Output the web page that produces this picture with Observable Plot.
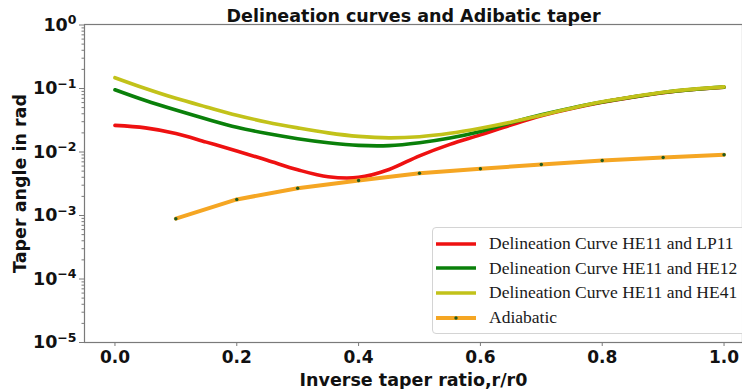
<!DOCTYPE html>
<html>
<head>
<meta charset="utf-8">
<script src="https://cdn.jsdelivr.net/npm/d3@7"></script>
<script src="https://cdn.jsdelivr.net/npm/@observablehq/plot@0.6"></script>
<style>
  body { margin: 0; background: #fff; }
  #wrap { position: relative; width: 742px; height: 389px; overflow: hidden; background: #fff; }
  #legend { position: absolute; left: 432px; top: 227px; width: 330px; height: 105px;
            border: 1px solid #d4d4d4; border-radius: 4px; background: rgba(255,255,255,0.9);
            font-family: "Liberation Serif", "Times New Roman", serif; font-size: 17.5px; color: #1a1a1a; }
  .row { position: absolute; left: 3px; height: 22px; display: flex; align-items: center; white-space: nowrap; }
  .row svg { display: block; }
  .row span { margin-left: 13px; }
</style>
</head>
<body>
<div id="wrap"></div>
<script>
// ---- data ----
const xs   = [0, 0.05, 0.1, 0.15, 0.2, 0.25, 0.3, 0.35, 0.4, 0.45, 0.5, 0.55, 0.6, 0.65, 0.7, 0.75, 0.8, 0.85, 0.9, 0.95, 1.0];
const lp11 = [0.0263, 0.0240, 0.0196, 0.0143, 0.0104, 0.00741, 0.00525, 0.00407, 0.00398, 0.00531, 0.00871, 0.0132, 0.0186, 0.0266, 0.0372, 0.0484, 0.0607, 0.0731, 0.0859, 0.0964, 0.1047];
const he12 = [0.0955, 0.0646, 0.0457, 0.0331, 0.0245, 0.0195, 0.0162, 0.0140, 0.0127, 0.0126, 0.0140, 0.0166, 0.0211, 0.0288, 0.0385, 0.0495, 0.0612, 0.0736, 0.0865, 0.0970, 0.105];
const he41 = [0.148, 0.100, 0.0700, 0.0513, 0.0380, 0.0295, 0.0240, 0.0200, 0.0176, 0.0167, 0.0174, 0.0197, 0.0237, 0.0295, 0.0380, 0.0490, 0.0617, 0.0741, 0.0871, 0.0977, 0.106];
const adiabaticX = [0.1, 0.2, 0.3, 0.4, 0.5, 0.6, 0.7, 0.8, 0.9, 1.0];
const adiabatic  = [0.00089, 0.00179, 0.00269, 0.00356, 0.00464, 0.00544, 0.00636, 0.00735, 0.00819, 0.00904];

const seriesNames = ["Delineation Curve HE11 and LP11", "Delineation Curve HE11 and HE12", "Delineation Curve HE11 and HE41", "Adiabatic"];
const seriesColors = ["#ee1111", "#0a800a", "#c2c21a", "#f5a623"];
const markerColor = "#1f5a1f";

const xTicks = [0, 0.2, 0.4, 0.6, 0.8, 1.0];
const yMajor = [1e-5, 1e-4, 1e-3, 1e-2, 1e-1, 1];
const yMinor = [];
for (let e = -5; e < 0; e++) for (let k = 2; k <= 9; k++) yMinor.push(k * Math.pow(10, e));

const titleText = "Delineation curves and Adibatic taper";
const xLabel = "Inverse taper ratio,r/r0";
const yLabel = "Taper angle in rad";

// ---- build tables ----
const curves = [lp11, he12, he41].map((vals, i) =>
  xs.map((x, j) => ({x, y: vals[j], s: seriesNames[i]})));
const adi = adiabaticX.map((x, j) => ({x, y: adiabatic[j]}));

const bold = {fontWeight: "bold", fill: "#111"};

const chart = Plot.plot({
  width: 742,
  height: 389,
  marginLeft: 84,
  marginTop: 24,
  marginBottom: 47,
  marginRight: 0,
  style: {fontFamily: "DejaVu Sans", fontSize: "17px", background: "white", overflow: "visible"},
  x: {domain: [-0.05, 1.05], range: [84, 754]},
  y: {type: "log", domain: [1e-5, 1], range: [342, 24.5]},
  marks: [
    Plot.frame({stroke: "#7a7a7a", strokeWidth: 1.2}),
    ...curves.map((d, i) => Plot.line(d, {x: "x", y: "y", stroke: seriesColors[i], strokeWidth: 3.6, curve: "catmull-rom"})),
    Plot.line(adi, {x: "x", y: "y", stroke: seriesColors[3], strokeWidth: 4}),
    Plot.dot(adi, {x: "x", y: "y", r: 1.7, fill: markerColor, stroke: "none"}),
    Plot.axisX({ticks: xTicks, tickFormat: d3.format(".1f"), tickSize: 4, tickPadding: 4, stroke: "#7a7a7a", fontSize: 17, label: null, ...bold}),
    Plot.axisY({ticks: yMajor, tickSize: 5, tickPadding: 3, stroke: "#7a7a7a", fontSize: 17.5, label: null,
                tickFormat: d => "E" + Math.round(Math.log10(d)), ...bold}),
    Plot.axisY({ticks: yMinor, tickSize: 2.5, stroke: "#7a7a7a", tickFormat: () => "", label: null}),
    Plot.text([titleText], {frameAnchor: "top", lineAnchor: "bottom", dy: -3, fontSize: 17.5, ...bold}),
    Plot.text([xLabel], {frameAnchor: "bottom", lineAnchor: "bottom", dy: 43, fontSize: 17.5, ...bold}),
    Plot.text([yLabel], {frameAnchor: "left", textAnchor: "middle", lineAnchor: "middle", rotate: -90, dx: -64, fontSize: 17.5, ...bold})
  ]
});

// superscript exponents on the log axis labels
d3.select(chart).selectAll('g[aria-label="y-axis tick label"] text').each(function () {
  const t = d3.select(this);
  const txt = t.text();
  if (!txt.startsWith("E")) return;
  const e = txt.slice(1).replace("-", "\u2212");
  t.text(null);
  t.append("tspan").text("10");
  t.append("tspan").attr("dy", "-0.5em").attr("font-size", "12.5px").text(e);
});

const wrap = document.getElementById("wrap");
wrap.appendChild(chart);

// legend
const legend = d3.select(wrap).append("div").attr("id", "legend");
seriesNames.forEach((name, i) => {
  const row = legend.append("div").attr("class", "row").style("top", (4.7 + i * 24.6) + "px");
  const svg = row.append("svg").attr("width", 40).attr("height", 10);
  svg.append("line").attr("x1", 0).attr("x2", 40).attr("y1", 5).attr("y2", 5)
     .attr("stroke", seriesColors[i]).attr("stroke-width", i === 3 ? 4 : 3.6);
  if (i === 3) svg.append("circle").attr("cx", 20).attr("cy", 5).attr("r", 1.7).attr("fill", markerColor);
  row.append("span").text(name);
});
</script>
</body>
</html>
